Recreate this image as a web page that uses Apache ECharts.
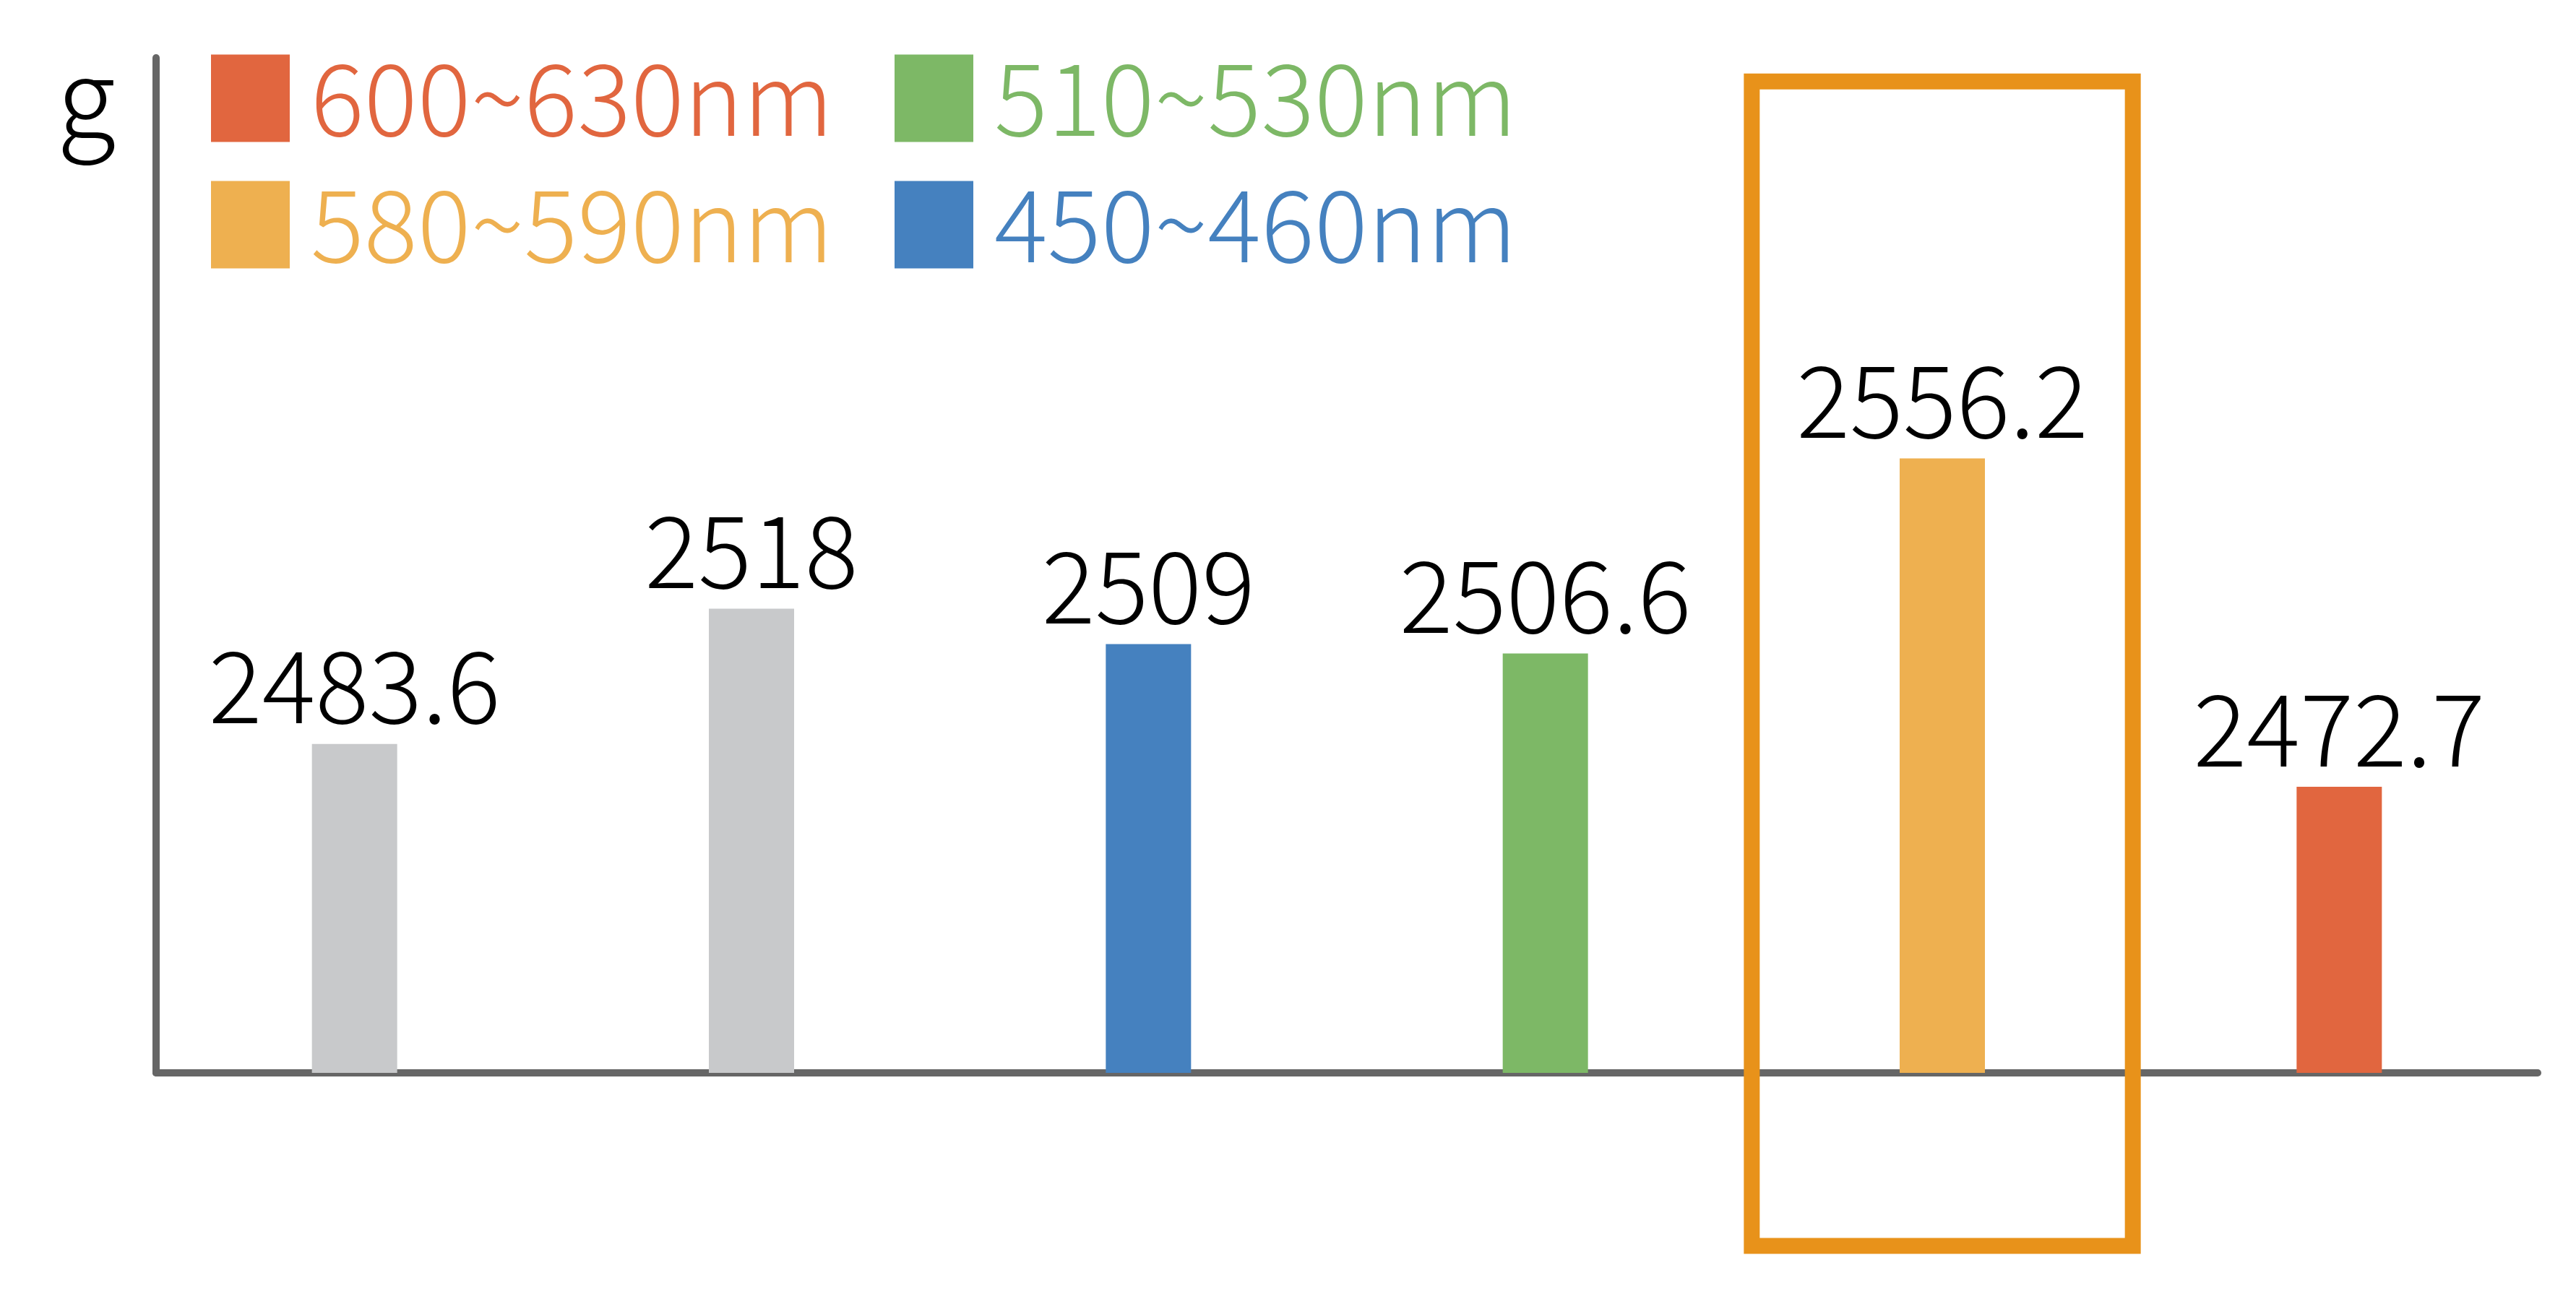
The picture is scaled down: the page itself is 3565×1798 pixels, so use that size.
<!DOCTYPE html>
<html>
<head>
<meta charset="utf-8">
<script src="https://cdn.jsdelivr.net/npm/echarts@6/dist/echarts.min.js"></script>
<style>
  html, body { margin: 0; padding: 0; background: #fff; }
  #chart { width: 3565px; height: 1798px; }
</style>
</head>
<body>
<div id="chart"></div>
<script>
const categories = ['1', '2', '3', '4', '5', '6'];
const greyValues = [2483.6, 2518, '-', '-', '-', '-'];
const blueValues = ['-', '-', 2509, '-', '-', '-'];
const greenValues = ['-', '-', '-', 2506.6, '-', '-'];
const orangeValues = ['-', '-', '-', '-', 2556.2, '-'];
const redValues = ['-', '-', '-', '-', '-', 2472.7];
const yMin = 2400;
const yMax = 2658;
// highlighted category and the value span of its frame
const boxIndex = 4;
const boxRange = [2356, 2652];

const FONT = '"Noto Sans CJK SC", "Noto Sans", sans-serif';

const chart = echarts.init(document.getElementById('chart'));

const barLabel = {
    show: true,
    position: 'top',
    distance: 12,
    color: '#000',
    fontFamily: FONT,
    fontWeight: 300,
    fontSize: 138,
    lineHeight: 138
};

function bar(name, data, color) {
    return {
        name: name,
        type: 'bar',
        data: data,
        barWidth: 118,
        barGap: '-100%',
        itemStyle: { color: color },
        label: barLabel
    };
}

chart.setOption({
    animation: false,
    grid: { left: 216, top: 80, right: 53, bottom: 313 },
    legend: {
        left: 287,
        top: 62,
        width: 2400,
        itemWidth: 109,
        itemHeight: 121,
        itemGap: 37,
        icon: 'rect',
        data: ['600~630nm', '510~530nm', '580~590nm', '450~460nm'],
        textStyle: {
            fontFamily: FONT,
            fontWeight: 300,
            fontSize: 138,
            lineHeight: 121,
            width: 771,
            padding: [0, 0, 0, 24],
            color: 'inherit'
        }
    },
    xAxis: {
        type: 'category',
        data: categories,
        axisLine: { lineStyle: { color: '#666', width: 10 } },
        axisTick: { show: false },
        axisLabel: { show: false }
    },
    yAxis: {
        type: 'value',
        min: yMin,
        max: yMax,
        name: 'g',
        nameLocation: 'end',
        nameGap: -54,
        nameTextStyle: {
            fontFamily: FONT,
            fontWeight: 300,
            fontSize: 150,
            color: '#000',
            align: 'right',
            verticalAlign: 'middle',
            padding: [0, 56, 0, 0]
        },
        axisLine: { show: true, lineStyle: { color: '#666', width: 10 } },
        axisTick: { show: false },
        axisLabel: { show: false },
        splitLine: { show: false }
    },
    series: [
        bar('对照', greyValues, '#C8C9CB'),
        bar('450~460nm', blueValues, '#4581BF'),
        bar('510~530nm', greenValues, '#7DB866'),
        bar('580~590nm', orangeValues, '#EEB050'),
        bar('600~630nm', redValues, '#E1663F')
    ]
});

// frame round the highlighted category, placed through the axes
const c0 = chart.convertToPixel({ gridIndex: 0 }, [boxIndex, boxRange[1]]);
const c1 = chart.convertToPixel({ gridIndex: 0 }, [boxIndex + 1, boxRange[0]]);
const band = c1[0] - c0[0];
const lw = 22;
chart.setOption({
    graphic: [{
        type: 'rect',
        z: 100,
        shape: {
            x: c0[0] - band / 2 + lw / 2,
            y: c0[1],
            width: band - lw,
            height: c1[1] - c0[1]
        },
        style: { fill: 'none', stroke: '#E8921A', lineWidth: lw }
    }]
});
</script>
</body>
</html>
